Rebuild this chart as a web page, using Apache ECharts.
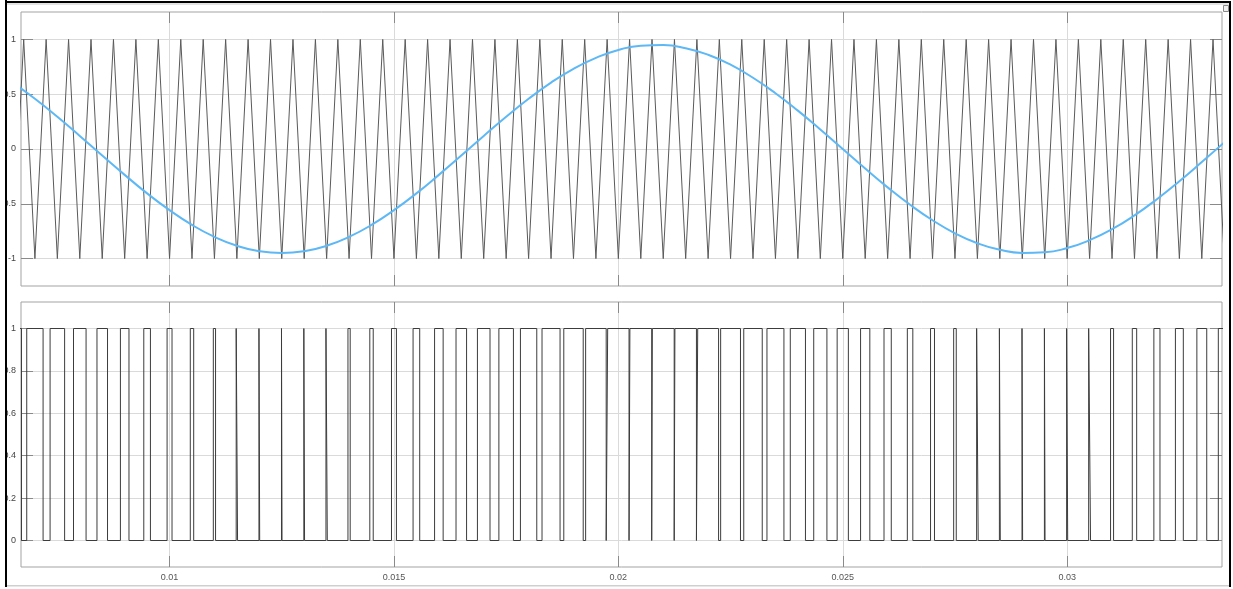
<!DOCTYPE html>
<html><head><meta charset="utf-8">
<script src="https://cdn.jsdelivr.net/npm/echarts@6/dist/echarts.min.js"></script>
<style>html,body{margin:0;padding:0;background:#fff;}#c{width:1233px;height:589px;}</style>
</head><body><div id="c"></div>
<script>
// ---- tick labels ----
const xTicks = [0.01, 0.015, 0.02, 0.025, 0.03];
const topYTicks = [-1, -0.5, 0, 0.5, 1];
const botYTicks = [0, 0.2, 0.4, 0.6, 0.8, 1];

// ---- triangular carrier: vertex times (s) and levels ----
const carrierT = [0.0065,0.00675,0.007,0.00725,0.0075,0.00775,0.008,0.00825,0.0085,0.00875,
0.009,0.00925,0.0095,0.00975,0.01,0.01025,0.0105,0.01075,0.011,0.01125,
0.0115,0.01175,0.012,0.01225,0.0125,0.01275,0.013,0.01325,0.0135,0.01375,
0.014,0.01425,0.0145,0.01475,0.015,0.01525,0.0155,0.01575,0.016,0.01625,
0.0165,0.01675,0.017,0.01725,0.0175,0.01775,0.018,0.01825,0.0185,0.01875,
0.019,0.01925,0.0195,0.01975,0.02,0.02025,0.0205,0.02075,0.021,0.02125,
0.0215,0.02175,0.022,0.02225,0.0225,0.02275,0.023,0.02325,0.0235,0.02375,
0.024,0.02425,0.0245,0.02475,0.025,0.02525,0.0255,0.02575,0.026,0.02625,
0.0265,0.02675,0.027,0.02725,0.0275,0.02775,0.028,0.02825,0.0285,0.02875,
0.029,0.02925,0.0295,0.02975,0.03,0.03025,0.0305,0.03075,0.031,0.03125,
0.0315,0.03175,0.032,0.03225,0.0325,0.03275,0.033,0.03325,0.0335];
const carrierV = [-1,1,-1,1,-1,1,-1,1,-1,1,
-1,1,-1,1,-1,1,-1,1,-1,1,
-1,1,-1,1,-1,1,-1,1,-1,1,
-1,1,-1,1,-1,1,-1,1,-1,1,
-1,1,-1,1,-1,1,-1,1,-1,1,
-1,1,-1,1,-1,1,-1,1,-1,1,
-1,1,-1,1,-1,1,-1,1,-1,1,
-1,1,-1,1,-1,1,-1,1,-1,1,
-1,1,-1,1,-1,1,-1,1,-1,1,
-1,1,-1,1,-1,1,-1,1,-1,1,
-1,1,-1,1,-1,1,-1,1,-1];

// ---- reference (modulating) wave samples ----
const sineT = [0.0065,0.007,0.0075,0.008,0.0085,0.009,0.0095,0.01,0.0105,0.011,
0.0115,0.012,0.0125,0.013,0.0135,0.014,0.0145,0.015,0.0155,0.016,
0.0165,0.017,0.0175,0.018,0.0185,0.019,0.0195,0.02,0.0205,0.021,
0.0215,0.022,0.0225,0.023,0.0235,0.024,0.0245,0.025,0.0255,0.026,
0.0265,0.027,0.0275,0.028,0.0285,0.029,0.0295,0.03,0.0305,0.031,
0.0315,0.032,0.0325,0.033,0.0335];
const sineV = [0.606,0.458,0.294,0.119,-0.060,-0.236,-0.405,-0.558,-0.693,-0.802,
-0.883,-0.933,-0.950,-0.933,-0.883,-0.802,-0.693,-0.558,-0.405,-0.236,
-0.060,0.119,0.294,0.458,0.606,0.732,0.832,0.904,0.943,0.948,
0.920,0.860,0.769,0.650,0.509,0.350,0.178,0.000,-0.178,-0.350,
-0.509,-0.650,-0.769,-0.860,-0.920,-0.948,-0.943,-0.904,-0.832,-0.732,
-0.606,-0.458,-0.294,-0.119,0.060];

// ---- PWM output: rising / falling edge times (s) ----
const pwmRise = [0.006299,0.006818,0.007338,0.007860,0.008383,0.008905,0.009426,0.009945,0.010462,0.010975,
0.011485,0.011992,0.012494,0.012992,0.013485,0.013975,0.014462,0.014945,0.015426,0.015905,
0.016383,0.016860,0.017338,0.017818,0.018299,0.018784,0.019271,0.019762,0.020257,0.020757,
0.021260,0.021768,0.022279,0.022794,0.023311,0.023831,0.024353,0.024875,0.025397,0.025919,
0.026439,0.026956,0.027471,0.027983,0.028490,0.028994,0.029493,0.029988,0.030479,0.030967,
0.031451,0.031932,0.032412,0.032890,0.033368];
const pwmFall = [0.006701,0.007182,0.007662,0.008140,0.008618,0.009096,0.009574,0.010055,0.010538,0.011025,
0.011515,0.012008,0.012506,0.013008,0.013515,0.014025,0.014538,0.015055,0.015574,0.016096,
0.016618,0.017140,0.017662,0.018182,0.018701,0.019217,0.019729,0.020238,0.020743,0.021244,
0.021740,0.022233,0.022721,0.023206,0.023689,0.024169,0.024647,0.025125,0.025603,0.026081,
0.026561,0.027044,0.027529,0.028018,0.028510,0.029007,0.029507,0.030012,0.030521,0.031034,
0.031549,0.032068,0.032588,0.033110,0.033633];

// ---- build series data ----
const carrierData = carrierT.map((t, i) => [t, carrierV[i]]);
const sineData = sineT.map((t, i) => [t, sineV[i]]);
const pwmData = [[0.0062, 0]];
for (let i = 0; i < pwmRise.length; i++) {
  pwmData.push([pwmRise[i], 0], [pwmRise[i], 1], [pwmFall[i], 1], [pwmFall[i], 0]);
}
pwmData.push([0.034, 0]);

const XMIN = 0.00669, XMAX = 0.03345;
const FONT = 'Liberation Sans';
const tickStyle = {color: '#8a8a8a', width: 1};
const gridLine = {color: '#dadada', width: 1};

function xAxes(gi, showLabels) {
  return [
    {type: 'value', gridIndex: gi, min: XMIN, max: XMAX, position: 'bottom',
     axisLine: {show: false, onZero: false},
     axisTick: {show: true, inside: true, length: 11, customValues: xTicks, lineStyle: tickStyle},
     splitLine: {show: true, lineStyle: gridLine},
     axisLabel: {show: showLabels, customValues: xTicks, fontSize: 9, color: '#555', fontFamily: FONT, margin: 6}},
    {type: 'value', gridIndex: gi, min: XMIN, max: XMAX, position: 'top',
     axisLine: {show: false, onZero: false},
     axisTick: {show: true, inside: true, length: 11, customValues: xTicks, lineStyle: tickStyle},
     splitLine: {show: false}, axisLabel: {show: false}}
  ];
}
function yAxes(gi, mn, mx, ticks) {
  return [
    {type: 'value', gridIndex: gi, min: mn, max: mx, position: 'left',
     axisLine: {show: false, onZero: false},
     axisTick: {show: true, inside: true, length: 12, customValues: ticks, lineStyle: tickStyle},
     splitLine: {show: true, lineStyle: gridLine},
     axisLabel: {show: true, customValues: ticks, fontSize: 9, color: '#444', fontFamily: FONT, margin: 5}},
    {type: 'value', gridIndex: gi, min: mn, max: mx, position: 'right',
     axisLine: {show: false, onZero: false},
     axisTick: {show: true, inside: true, length: 12, customValues: ticks, lineStyle: tickStyle},
     splitLine: {show: false}, axisLabel: {show: false}}
  ];
}

const chart = echarts.init(document.getElementById('c'), null, {renderer: 'canvas'});
chart.setOption({
  animation: false,
  backgroundColor: '#fff',
  grid: [
    {left: 21, top: 12, width: 1201, height: 274, show: true, borderColor: '#a3a3a3', borderWidth: 1,
     backgroundColor: 'transparent', containLabel: false, outerBoundsMode: 'none'},
    {left: 21, top: 302, width: 1201, height: 265, show: true, borderColor: '#a3a3a3', borderWidth: 1,
     backgroundColor: 'transparent', containLabel: false, outerBoundsMode: 'none'}
  ],
  xAxis: [...xAxes(0, false), ...xAxes(1, true)],
  yAxis: [...yAxes(0, -1.25, 1.25, topYTicks), ...yAxes(1, -0.125, 1.125, botYTicks)],
  series: [
    {type: 'line', name: 'carrier', xAxisIndex: 0, yAxisIndex: 0, data: carrierData,
     symbol: 'none', lineStyle: {color: '#5a5a5a', width: 1}, z: 2},
    {type: 'line', name: 'reference', xAxisIndex: 0, yAxisIndex: 0, data: sineData,
     symbol: 'none', smooth: true, lineStyle: {color: '#5db8f5', width: 2}, z: 3},
    {type: 'line', name: 'pwm', xAxisIndex: 2, yAxisIndex: 2, data: pwmData,
     symbol: 'none', lineStyle: {color: '#3c3c3c', width: 1}, z: 2}
  ],
  graphic: [
    {type: 'rect', shape: {x: 0, y: 0, width: 5, height: 589}, style: {fill: '#fff'}, z: 100, silent: true},
    {type: 'rect', shape: {x: 5, y: 0, width: 2, height: 587}, style: {fill: '#000'}, z: 101, silent: true},
    {type: 'rect', shape: {x: 5, y: 1, width: 1226, height: 2}, style: {fill: '#000'}, z: 101, silent: true},
    {type: 'rect', shape: {x: 7, y: 3.5, width: 1222, height: 1}, style: {fill: '#c8c8c8'}, z: 100, silent: true},
    {type: 'rect', shape: {x: 1229, y: 1, width: 2, height: 586}, style: {fill: '#000'}, z: 101, silent: true},
    {type: 'rect', shape: {x: 7, y: 585, width: 1222, height: 1.5}, style: {fill: '#cfcfcf'}, z: 100, silent: true},
    {type: 'rect', shape: {x: 1223.5, y: 5.5, width: 5, height: 6}, style: {fill: '#eee', stroke: '#888', lineWidth: 1}, z: 102, silent: true}
  ]
});
</script>
</body></html>
